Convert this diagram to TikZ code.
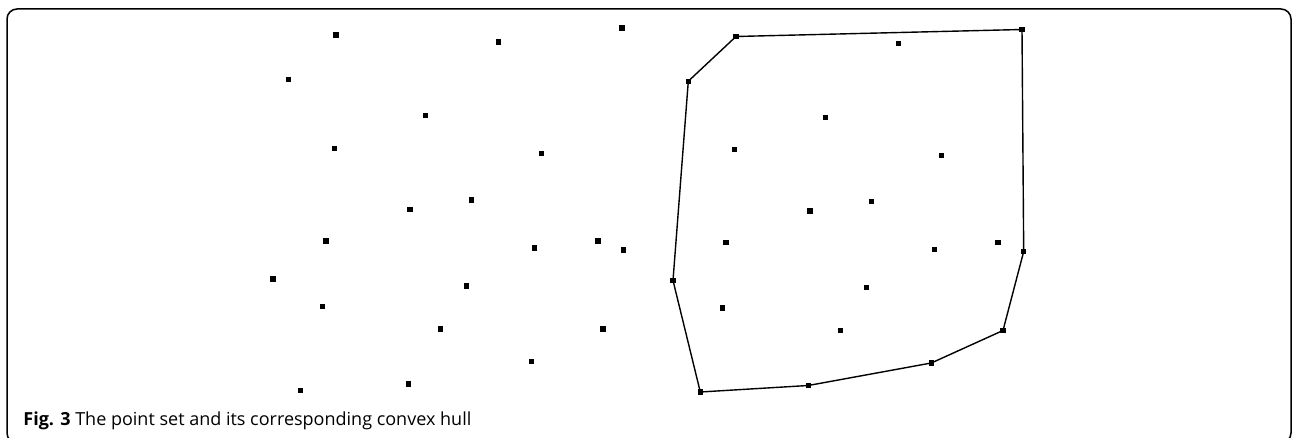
\documentclass[tikz,border=0pt]{standalone}
\usepackage{fontspec}
\setmainfont{Open Sans}
\begin{document}
\begin{tikzpicture}[x=0.5pt, y=-0.5pt,
  pnt/.style={fill, inner sep=0pt, minimum size=2.6pt},
  hull/.style={line width=0.7pt},
  frame/.style={line width=0.75pt, rounded corners=5pt}]
\useasboundingbox (0,0) rectangle (1292,438);
\clip (0,0) rectangle (1292,438);
\draw[frame] (7,9) rectangle (1291,443);
% the same point set twice, the copy shifted to the right
\foreach \x/\y [count=\i] in {336/35, 498.7/42, 622/28, 288.3/79.7, 425.3/115.7,
    334.7/148.3, 541.7/153.7, 471.3/200, 410/209.5, 326/241, 534.7/248,
    598/241, 623.7/250, 273/279, 466.3/286, 322.7/306.5, 440.7/329,
    603/329, 531.3/361.5, 300.3/390.5, 408.3/384} {
  \node[pnt] (l\i) at (\x,\y) {};
  \node[pnt] (r\i) at (\x+400,\y+1.5) {};
}
\draw[hull] (r4.center) -- (r1.center) -- (r3.center) -- (r13.center)
  -- (r18.center) -- (r19.center) -- (r21.center) -- (r20.center)
  -- (r14.center) -- cycle;
\node[anchor=base west, inner sep=0pt, font=\fontsize{9}{11}\selectfont] (cap)
  at (23,425.5) {\textbf{Fig. 3} The point set and its corresponding convex hull};
\end{tikzpicture}
\end{document}
